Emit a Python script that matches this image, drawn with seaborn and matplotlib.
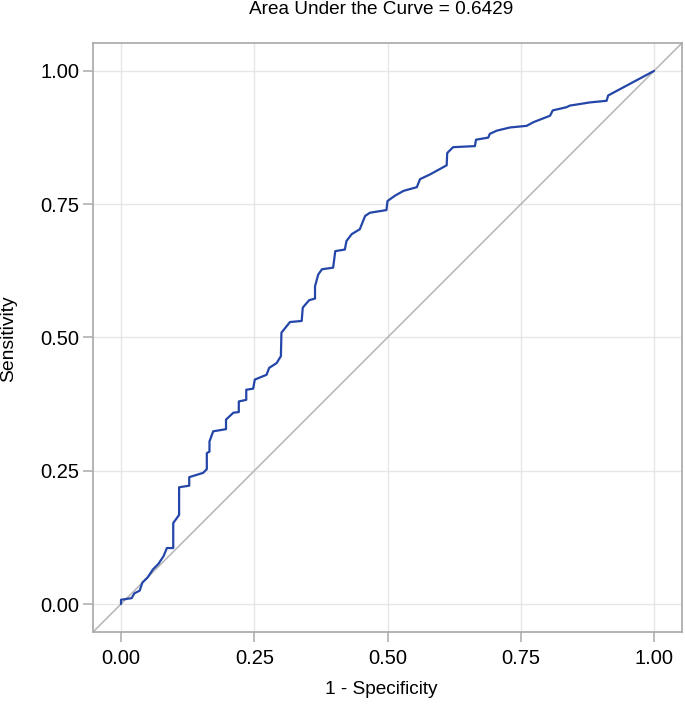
# ROC curve, values
import numpy as np
import pandas as pd
import seaborn as sns
from matplotlib import pyplot as plt

auc_value = 0.6429

fpr = [0.000, 0.000, 0.020, 0.025, 0.035, 0.040, 0.050, 0.060, 0.070, 0.080, 0.086, 0.098,
       0.098, 0.109, 0.109, 0.128, 0.128, 0.154, 0.161, 0.161, 0.166, 0.166, 0.173, 0.197,
       0.197, 0.211, 0.221, 0.221, 0.235, 0.235, 0.248, 0.251, 0.273, 0.278, 0.292, 0.300,
       0.301, 0.317, 0.339, 0.341, 0.353, 0.364, 0.364, 0.370, 0.377, 0.398, 0.402, 0.420,
       0.423, 0.433, 0.448, 0.458, 0.467, 0.498, 0.500, 0.514, 0.530, 0.555, 0.561, 0.580,
       0.611, 0.612, 0.623, 0.664, 0.666, 0.689, 0.692, 0.705, 0.730, 0.761, 0.774, 0.805,
       0.810, 0.836, 0.842, 0.880, 0.911, 0.914, 1.000]
tpr = [0.000, 0.008, 0.011, 0.020, 0.025, 0.040, 0.050, 0.065, 0.075, 0.090, 0.105, 0.105,
       0.152, 0.167, 0.219, 0.222, 0.238, 0.246, 0.253, 0.283, 0.286, 0.305, 0.324, 0.328,
       0.346, 0.359, 0.360, 0.380, 0.383, 0.402, 0.404, 0.421, 0.430, 0.443, 0.452, 0.465,
       0.509, 0.529, 0.531, 0.556, 0.570, 0.573, 0.596, 0.618, 0.628, 0.631, 0.662, 0.665,
       0.681, 0.694, 0.703, 0.728, 0.734, 0.739, 0.756, 0.766, 0.775, 0.782, 0.797, 0.806,
       0.823, 0.846, 0.857, 0.859, 0.871, 0.875, 0.882, 0.888, 0.894, 0.897, 0.904, 0.916,
       0.926, 0.932, 0.935, 0.941, 0.944, 0.954, 1.000]

ticks = [0.0, 0.25, 0.5, 0.75, 1.0]
tick_labels = ['0.00', '0.25', '0.50', '0.75', '1.00']

sns.set_theme(style='whitegrid')
plt.rcParams['font.family'] = ['Liberation Sans', 'DejaVu Sans']
plt.rcParams['text.color'] = 'black'

roc = pd.DataFrame({'fpr': fpr, 'tpr': tpr})

fig = plt.figure(figsize=(6.85, 7.09), dpi=100)
ax = fig.add_axes([0.1358, 0.1086, 0.8598, 0.8308])

lim = (-0.0525, 1.0525)
ax.set_xlim(lim)
ax.set_ylim(lim)

# reference diagonal
ax.axline((0, 0), (1, 1), color='#b4b4b4', lw=1.1, zorder=2)

sns.lineplot(data=roc, x='fpr', y='tpr', sort=False, estimator=None,
             color='#2346a8', lw=1.6, ax=ax, zorder=3)

ax.set_xticks(ticks)
ax.set_xticklabels(tick_labels)
ax.set_yticks(ticks)
ax.set_yticklabels(tick_labels)
ax.tick_params(axis='both', which='major', direction='out', length=7, width=1.2,
               color='#b0b0b0', labelsize=14.5, labelcolor='black', bottom=True, left=True)
ax.tick_params(axis='x', pad=5.5)
ax.tick_params(axis='y', pad=3)
ax.grid(True, color='#e6e6e6', lw=1)
for s in ax.spines.values():
    s.set_color('#a8a8a8')
    s.set_linewidth(1.2)

ax.set_xlabel('')
ax.set_ylabel('')
fig.text(0.5565, 1 - 690 / 709, '1 - Specificity', ha='center', va='center',
         fontsize=13.7, color='black')
fig.text(9 / 685, 1 - 339 / 709, 'Sensitivity', ha='center', va='center', rotation=90,
         fontsize=13.9, color='black')
fig.text(0.5565, 1 - 10 / 709, 'Area Under the Curve = {:.4f}'.format(auc_value),
         ha='center', va='center', fontsize=13.7, color='black')

fig.savefig('out.png', dpi=100)
